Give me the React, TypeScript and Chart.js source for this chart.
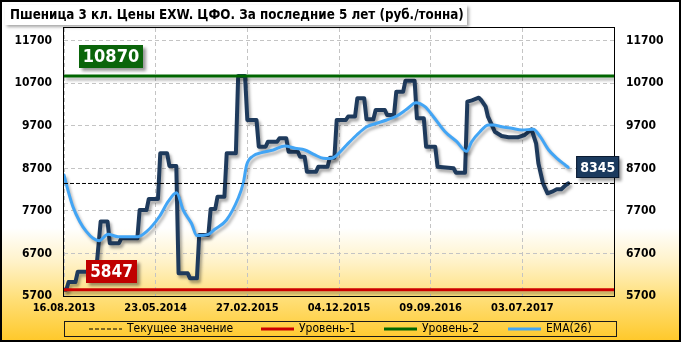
import React, { useEffect, useRef } from 'react';
import { Chart, registerables } from 'chart.js';

Chart.register(...registerables);

const FONT = "'DejaVu Sans Condensed', 'DejaVu Sans', sans-serif";

const TITLE = 'Пшеница 3 кл. Цены EXW. ЦФО. За последние 5 лет (руб./тонна)';
const X_TICK_LABELS = ['16.08.2013', '23.05.2014', '27.02.2015', '04.12.2015', '09.09.2016', '03.07.2017'];
const WEEKS_PER_TICK = 40;
const X_MAX_WEEK = 240;
const Y_TICKS = [5700, 6700, 7700, 8700, 9700, 10700, 11700];
const Y_MIN = 5700;
const Y_MAX = 12000;

const CURRENT_VALUE = 8345;
const LEVEL_1 = 5847;
const LEVEL_2 = 10870;

const LEGEND_LABELS = ['Текущее значение', 'Уровень-1', 'Уровень-2', 'EMA(26)'];

// weekly price (week index since 16.08.2013)
const PRICE_WEEKS = [
  0, 1, 2, 5, 6, 14, 16, 19, 20, 24, 25, 32, 33, 36, 37, 41, 42, 45, 46, 49,
  50, 54, 55, 58, 59, 63, 64, 66, 67, 70, 71, 75, 76, 79, 80, 84, 85, 88, 89, 93,
  94, 97, 98, 102, 103, 105, 106, 110, 111, 115, 116, 118, 119, 123, 124, 127, 128, 131, 132, 135,
  136, 140, 141, 144, 145, 148, 149, 153, 154, 157, 158, 162, 163, 170, 171, 175, 176, 178, 181, 182,
  184, 185, 187, 188, 191, 194, 198, 201, 204, 206, 207, 209, 211, 213, 215, 217, 219, 220,
];
const PRICE_VALUES = [
  5847, 5847, 6030, 6030, 6270, 6270, 7450, 7450, 6940, 6940, 7056, 7056, 7720, 7720, 7980, 7980, 9055, 9055, 8756, 8756,
  6233, 6233, 6116, 6116, 7134, 7134, 7745, 7745, 8034, 8034, 9055, 9055, 10870, 10870, 9838, 9838, 9210, 9210, 9327, 9327,
  9407, 9407, 9092, 9092, 8975, 8975, 8622, 8622, 8740, 8740, 8950, 8950, 9838, 9838, 9920, 9920, 10348, 10348, 9854, 9854,
  10073, 10073, 9955, 9955, 10503, 10503, 10762, 10762, 9878, 9878, 9210, 9210, 8740, 8702, 8599, 8599, 10268, 10300, 10362, 10308,
  10150, 9915, 9680, 9562, 9462, 9431, 9431, 9485, 9619, 9290, 8820, 8350, 8114, 8152, 8208, 8208, 8309, 8345,
];

const EMA_WEEKS = [
  0, 1.7, 3.9, 6.9, 9.8, 12.7, 15.3, 19.2, 23.6, 32.3, 36, 41.8, 45.4, 49.1, 52, 55.6, 58, 63, 65.8, 70.9,
  76, 78.2, 79.7, 82.5, 86.2, 91.3, 96.4, 100.8, 105.1, 109.5, 113.1, 116, 118.2, 123.3, 127.7, 132.1, 136.4, 140.8, 145.2, 149.5,
  153.6, 157.5, 161.2, 166.3, 171.4, 175.7, 177.9, 181.5, 185.2, 187.4, 191, 195.4, 199.8, 204.8, 207.8, 211.5, 215.1, 218.7, 220,
];
const EMA_VALUES = [
  8545, 8192, 7800, 7447, 7212, 7056, 7000, 7150, 7094, 7094, 7212, 7580, 7917, 8128, 7722, 7409, 7120, 7150, 7268, 7487,
  7997, 8350, 8780, 8991, 9069, 9132, 9226, 9172, 9132, 9015, 8937, 8930, 8975, 9250, 9485, 9680, 9760, 9838, 9932, 10089,
  10244, 10150, 9915, 9562, 9327, 9100, 9327, 9562, 9720, 9720, 9680, 9642, 9603, 9619, 9445, 9132, 8937, 8780, 8725,
];

const toPoints = (xs: number[], ys: number[]) => xs.map((x, i) => ({ x, y: ys[i] }));
const flat = (v: number) => [{ x: 0, y: v }, { x: X_MAX_WEEK, y: v }];

const shadowPlugin = {
  id: 'lineShadow',
  beforeDatasetDraw(chart: any, args: any) {
    const ds = chart.data.datasets[args.index];
    if (!ds.shadow) return;
    const ctx = chart.ctx;
    ctx.save();
    ctx.shadowColor = ds.shadow;
    ctx.shadowBlur = 3;
    ctx.shadowOffsetX = 2;
    ctx.shadowOffsetY = 3;
  },
  afterDatasetDraw(chart: any, args: any) {
    const ds = chart.data.datasets[args.index];
    if (!ds.shadow) return;
    chart.ctx.restore();
  },
};

function valueBox(ctx: any, text: string, cx: number | null, left: number | null, cy: number, h: number, fontPx: number, fill: string, outline: string | null) {
  ctx.save();
  ctx.font = `bold ${fontPx}px ${FONT}`;
  const w = Math.round(ctx.measureText(text).width + 8);
  const x = left !== null ? left : Math.round((cx as number) - w / 2);
  const y = Math.round(cy - h / 2);
  ctx.shadowColor = 'rgba(0,0,0,0.4)';
  ctx.shadowBlur = 3;
  ctx.shadowOffsetX = 3;
  ctx.shadowOffsetY = 3;
  ctx.fillStyle = fill;
  ctx.fillRect(x, y, w, h);
  ctx.shadowColor = 'transparent';
  if (outline) {
    ctx.strokeStyle = outline;
    ctx.lineWidth = 1;
    ctx.strokeRect(x + 0.5, y + 0.5, w - 1, h - 1);
  }
  ctx.fillStyle = '#ffffff';
  ctx.textAlign = 'center';
  ctx.textBaseline = 'middle';
  ctx.fillText(text, x + w / 2, y + h / 2 + 1);
  ctx.restore();
}

const decorPlugin = {
  id: 'decor',
  beforeDraw(chart: any) {
    const { ctx, width, height } = chart;
    ctx.save();
    ctx.fillStyle = '#ffffff';
    ctx.fillRect(0, 0, width, height);
    const g = ctx.createLinearGradient(0, 228, 0, height);
    g.addColorStop(0, 'rgba(255,255,255,1)');
    g.addColorStop(0.3, '#fff2c8');
    g.addColorStop(0.62, '#ffdf78');
    g.addColorStop(1, '#ffc828');
    ctx.fillStyle = g;
    ctx.fillRect(0, 228, width, height - 228);
    // title box
    ctx.shadowColor = 'rgba(0,0,0,0.35)';
    ctx.shadowBlur = 3;
    ctx.shadowOffsetX = 2;
    ctx.shadowOffsetY = 2;
    ctx.fillStyle = '#ffffff';
    ctx.fillRect(5, 5, 462, 20);
    ctx.restore();
    ctx.save();
    ctx.font = `bold 13.3px ${FONT}`;
    ctx.fillStyle = '#000000';
    ctx.textBaseline = 'alphabetic';
    ctx.fillText(TITLE, 10, 19);
    ctx.restore();
  },
  afterDraw(chart: any) {
    const { ctx, chartArea: a, width, height } = chart;
    const xs = chart.scales.x;
    const ys = chart.scales.y;
    ctx.save();
    // plot frame
    ctx.strokeStyle = '#000000';
    ctx.lineWidth = 1;
    ctx.strokeRect(Math.round(a.left) - 0.5, Math.round(a.top) - 0.5, Math.round(a.right - a.left) + 1, Math.round(a.bottom - a.top) + 1);

    // value labels
    valueBox(ctx, String(LEVEL_2), 111, null, ys.getPixelForValue(LEVEL_2) - 20, 23, 18, '#0b650b', null);
    valueBox(ctx, String(LEVEL_1), 111, null, ys.getPixelForValue(LEVEL_1) - 18.5, 23, 17, '#c00000', null);
    const lastEmaX = xs.getPixelForValue(EMA_WEEKS[EMA_WEEKS.length - 1]);
    const lastEmaY = ys.getPixelForValue(EMA_VALUES[EMA_VALUES.length - 1]);
    valueBox(ctx, String(CURRENT_VALUE), null, lastEmaX + 8, lastEmaY, 22, 14, '#1b3a5e', '#0a1a30');

    // legend
    const lx = 64, ly = 321, lw = 552, lh = 15;
    ctx.strokeStyle = '#1a1a1a';
    ctx.lineWidth = 1;
    ctx.strokeRect(lx + 0.5, ly + 0.5, lw, lh);
    const slots = [89, 261, 384, 508];
    const legendSets = chart.data.datasets.filter((d: any) => d.inLegend);
    const cy = ly + lh / 2 + 0.5;
    legendSets.forEach((d: any, i: number) => {
      const sx = slots[i];
      ctx.save();
      ctx.strokeStyle = d.borderColor;
      ctx.lineWidth = d.borderWidth;
      ctx.setLineDash(d.borderDash || []);
      ctx.beginPath();
      ctx.moveTo(sx, cy);
      ctx.lineTo(sx + 33, cy);
      ctx.stroke();
      ctx.restore();
      ctx.font = `12px ${FONT}`;
      ctx.fillStyle = '#000000';
      ctx.textBaseline = 'middle';
      ctx.fillText(LEGEND_LABELS[i], sx + 38, cy);
    });

    // outer border
    ctx.strokeStyle = '#000000';
    ctx.lineWidth = 2;
    ctx.strokeRect(1, 1, width - 2, height - 2);
    ctx.restore();
  },
};

export default function App() {
  const ref = useRef<HTMLCanvasElement | null>(null);
  useEffect(() => {
    if (!ref.current) return;
    const yAxis = (position: 'left' | 'right', w: number, grid: boolean) => ({
      type: 'linear' as const,
      position,
      min: Y_MIN,
      max: Y_MAX,
      afterBuildTicks: (scale: any) => {
        scale.ticks = Y_TICKS.map((v) => ({ value: v }));
      },
      afterFit: (scale: any) => {
        scale.width = w;
      },
      ticks: {
        padding: 12,
        color: '#000000',
        font: { family: FONT, size: 12, weight: 'bold' as const },
        callback: (value: any) => String(value),
      },
      grid: { display: grid, color: '#c4c4c4', lineWidth: 1, drawTicks: false },
      border: { display: false, dash: [4, 3] },
    });
    const chart = new Chart(ref.current, {
      type: 'line',
      data: {
        datasets: [
          {
            label: LEGEND_LABELS[0],
            data: flat(CURRENT_VALUE),
            borderColor: '#000000',
            borderWidth: 1,
            borderDash: [4, 2],
            pointRadius: 0,
            order: 0,
            inLegend: true,
          } as any,
          {
            label: LEGEND_LABELS[1],
            data: flat(LEVEL_1),
            borderColor: '#cc0000',
            borderWidth: 3,
            pointRadius: 0,
            order: 1,
            inLegend: true,
            shadow: 'rgba(0,0,0,0.3)',
          } as any,
          {
            label: LEGEND_LABELS[2],
            data: flat(LEVEL_2),
            borderColor: '#006600',
            borderWidth: 3,
            pointRadius: 0,
            order: 1,
            inLegend: true,
            shadow: 'rgba(0,0,0,0.3)',
          } as any,
          {
            label: LEGEND_LABELS[3],
            data: toPoints(EMA_WEEKS, EMA_VALUES),
            borderColor: '#42a5f5',
            borderWidth: 3,
            pointRadius: 0,
            cubicInterpolationMode: 'monotone',
            borderJoinStyle: 'round',
            borderCapStyle: 'round',
            order: 2,
            inLegend: true,
            shadow: 'rgba(0,0,0,0.3)',
          } as any,
          {
            label: 'Цена',
            data: toPoints(PRICE_WEEKS, PRICE_VALUES),
            borderColor: '#1e3a5c',
            borderWidth: 4,
            pointRadius: 0,
            tension: 0,
            borderJoinStyle: 'round',
            borderCapStyle: 'round',
            order: 3,
            inLegend: false,
            shadow: 'rgba(0,0,0,0.35)',
          } as any,
        ],
      },
      options: {
        responsive: false,
        animation: false,
        devicePixelRatio: 1,
        layout: { padding: { top: 28, left: 0, right: 0, bottom: 0 } },
        plugins: {
          legend: { display: false },
          title: { display: false },
          tooltip: { enabled: false },
        },
        scales: {
          x: {
            type: 'linear',
            position: 'bottom',
            min: 0,
            max: X_MAX_WEEK,
            afterFit: (scale: any) => {
              scale.height = 46;
            },
            ticks: {
              stepSize: WEEKS_PER_TICK,
              autoSkip: false,
              maxRotation: 0,
              padding: 6,
              color: '#000000',
              font: { family: FONT, size: 11, weight: 'bold' },
              callback: (value: any) => {
                const i = Number(value) / WEEKS_PER_TICK;
                return Number.isInteger(i) && i < X_TICK_LABELS.length ? X_TICK_LABELS[i] : '';
              },
            },
            grid: { color: '#c4c4c4', lineWidth: 1, drawTicks: false },
            border: { display: false, dash: [4, 3] },
          },
          y: yAxis('left', 64, true),
          y2: yAxis('right', 67, false),
        },
      },
      plugins: [decorPlugin, shadowPlugin],
    } as any);
    return () => chart.destroy();
  }, []);
  return (
    <div style={{ position: 'absolute', left: 0, top: 0, width: 681, height: 342 }}>
      <canvas ref={ref} width={681} height={342} style={{ display: 'block', width: 681, height: 342 }} />
    </div>
  );
}
